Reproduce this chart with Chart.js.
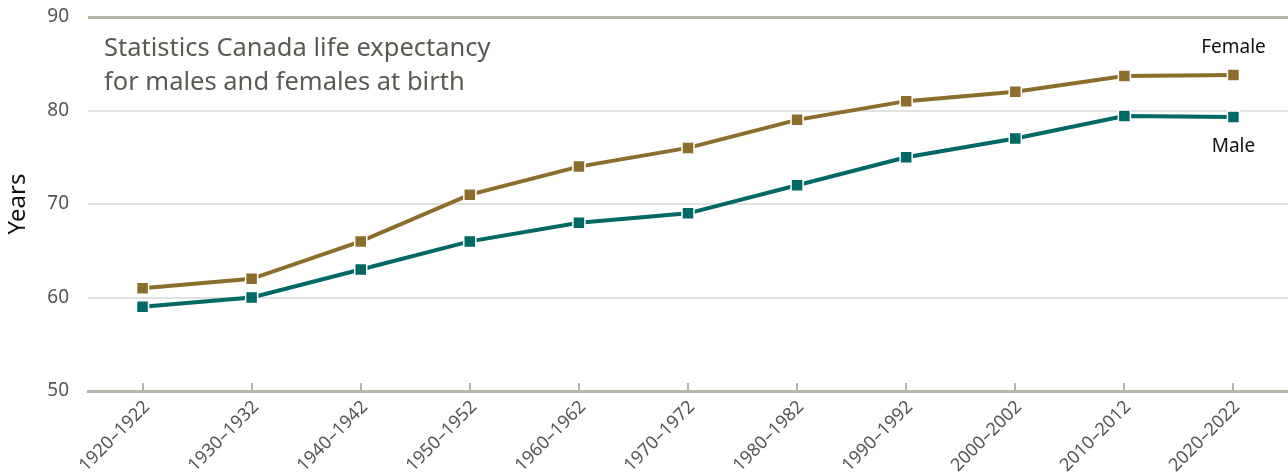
<!DOCTYPE html>
<html>
<head>
<meta charset="utf-8">
<script src="https://cdn.jsdelivr.net/npm/chart.js@4.4.1/dist/chart.umd.min.js"></script>
<style>
    html, body { margin: 0; padding: 0; background: #fff; }
    #wrap { width: 1288px; height: 475px; position: relative; }
</style>
</head>
<body>
<div id="wrap"><canvas id="lifeChart"></canvas></div>
<script>
const periods = ['1920–1922', '1930–1932', '1940–1942', '1950–1952', '1960–1962', '1970–1972',
    '1980–1982', '1990–1992', '2000–2002', '2010–2012', '2020–2022'];
const femaleValues = [61, 62, 66, 71, 74, 76, 79, 81, 82, 83.7, 83.8];
const maleValues = [59, 60, 63, 66, 68, 69, 72, 75, 77, 79.4, 79.3];
const yTicks = [50, 60, 70, 80, 90];

const FEMALE_COLOR = '#8c6d2b';
const MALE_COLOR = '#006966';
const AXIS_COLOR = '#b8b4a8';
const FONT = "'Noto Sans', sans-serif";

// rotated x labels, upward tick marks and the text notes
const annotations = {
    id: 'annotations',
    afterDraw(chart) {
        const ctx = chart.ctx;
        const x = chart.scales.x;
        const y = chart.scales.y;
        ctx.save();

        ctx.strokeStyle = AXIS_COLOR;
        ctx.lineWidth = 2;
        ctx.fillStyle = '#555';
        ctx.font = '18px ' + FONT;
        ctx.textAlign = 'right';
        ctx.textBaseline = 'middle';
        periods.forEach((p, i) => {
            const px = Math.round(x.getPixelForValue(i));
            ctx.beginPath();
            ctx.moveTo(px, y.bottom);
            ctx.lineTo(px, y.bottom - 8);
            ctx.stroke();

            ctx.save();
            ctx.translate(px + 4, y.bottom + 13);
            ctx.rotate(-Math.PI / 4);
            ctx.fillText(p, 0, 0);
            ctx.restore();
        });

        ctx.fillStyle = '#5b5a52';
        ctx.font = '25.5px ' + FONT;
        ctx.textBaseline = 'alphabetic';
        ctx.textAlign = 'left';
        ctx.fillText('Statistics Canada life expectancy', 104, 56);
        ctx.fillText('for males and females at birth', 104, 90);

        ctx.fillStyle = '#111';
        ctx.font = '19px ' + FONT;
        ctx.textAlign = 'center';
        const lastX = x.getPixelForValue(periods.length - 1);
        ctx.fillText('Female', lastX, y.getPixelForValue(femaleValues[femaleValues.length - 1]) - 22);
        ctx.fillText('Male', lastX, y.getPixelForValue(maleValues[maleValues.length - 1]) + 35);
        ctx.restore();
    }
};

const ctx = document.getElementById('lifeChart').getContext('2d');
new Chart(ctx, {
    type: 'line',
    data: {
        labels: periods,
        datasets: [
            {
                label: 'Female',
                data: femaleValues,
                borderColor: FEMALE_COLOR,
                backgroundColor: FEMALE_COLOR,
                borderWidth: 4,
                pointStyle: 'rect',
                pointRadius: 8.5,
                pointBorderColor: '#fff',
                pointBorderWidth: 1.5,
                pointBackgroundColor: FEMALE_COLOR,
                tension: 0
            },
            {
                label: 'Male',
                data: maleValues,
                borderColor: MALE_COLOR,
                backgroundColor: MALE_COLOR,
                borderWidth: 4,
                pointStyle: 'rect',
                pointRadius: 8.5,
                pointBorderColor: '#fff',
                pointBorderWidth: 1.5,
                pointBackgroundColor: MALE_COLOR,
                tension: 0
            }
        ]
    },
    options: {
        responsive: true,
        maintainAspectRatio: false,
        animation: false,
        layout: { autoPadding: false, padding: { top: 17, right: 0, bottom: 84, left: 0 } },
        plugins: {
            legend: { display: false },
            tooltip: { enabled: false }
        },
        scales: {
            x: {
                offset: true,
                grid: { display: false, drawTicks: false },
                border: { display: true, color: AXIS_COLOR, width: 3 },
                ticks: { display: false }
            },
            y: {
                min: 50,
                max: 90,
                afterBuildTicks(axis) {
                    axis.ticks = yTicks.map(v => ({ value: v }));
                },
                afterFit(axis) {
                    axis.paddingTop = 0;
                    axis.paddingBottom = 0;
                    axis.width = 88;
                },
                grid: {
                    color: c => (c.tick && c.tick.value === 90) ? AXIS_COLOR : '#e2e2e2',
                    lineWidth: c => (c.tick && c.tick.value === 90) ? 3 : 2,
                    drawTicks: false
                },
                border: { display: false },
                ticks: {
                    color: '#555',
                    font: { family: FONT, size: 19 },
                    padding: 19
                },
                title: {
                    display: true,
                    text: 'Years',
                    color: '#111',
                    font: { family: FONT, size: 24 },
                    padding: { top: 4, bottom: 2 }
                }
            }
        }
    },
    plugins: [annotations]
});
</script>
</body>
</html>
